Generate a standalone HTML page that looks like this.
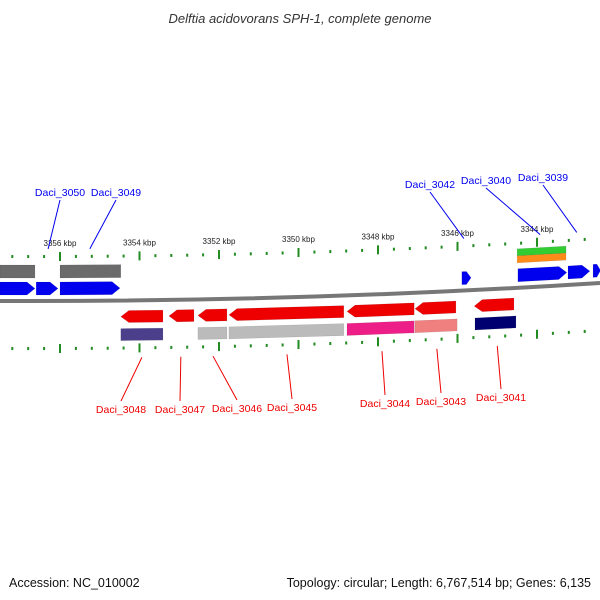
<!DOCTYPE html>
<html><head><meta charset="utf-8"><style>
body{margin:0;background:#fff}
svg{display:block;font-family:"Liberation Sans","DejaVu Sans",sans-serif}
</style></head><body>
<svg id="c" width="600" height="600" viewBox="0 0 600 600">
<text x="300" y="23" text-anchor="middle" font-size="13" font-style="italic" fill="#333">Delftia acidovorans SPH-1, complete genome</text>
<text x="9" y="587" font-size="12.5" fill="#111">Accession: NC_010002</text>
<text x="591" y="587" text-anchor="end" font-size="12.5" fill="#111">Topology: circular; Length: 6,767,514 bp; Genes: 6,135</text>
<g id="ticks"></g><g id="genes"></g><g id="labels"></g>
</svg>
<script>
const tickKbp=[3356,3354,3352,3350,3348,3346,3344];
const geneStart=[3357.51,3356.6,3356.0,3345.89,3344.48,3343.22,3342.59,3354.47,3353.26,3352.53,3351.75,3348.78,3347.07,3345.58,3357.51,3356.0,3354.47,3352.53,3351.75,3348.78,3347.07,3345.56,3344.5,3344.5];
const geneEnd=[3356.63,3356.05,3354.49,3345.66,3343.25,3342.67,3342.4,3353.41,3352.63,3351.8,3348.86,3347.09,3346.04,3344.58,3356.63,3354.47,3353.41,3351.8,3348.86,3347.09,3346.01,3344.53,3343.27,3343.27];
const geneTrack=["f","f","f","f","f","f","f","r","r","r","r","r","r","r","ug","ug","lb","lb","lb","lb","lb","lb","ug2","ug3"];
const geneColor=["#0000ee","#0000ee","#0000ee","#0000ee","#0000ee","#0000ee","#0000ee","#ee0000","#ee0000","#ee0000","#ee0000","#ee0000","#ee0000","#ee0000","#6b6b6b","#6b6b6b","#4b3f8c","#bbbbbb","#bbbbbb","#ee1e88","#f08080","#000070","#33cc33","#ff8c1a"];
const labelText=["Daci_3050","Daci_3049","Daci_3042","Daci_3040","Daci_3039","Daci_3048","Daci_3047","Daci_3046","Daci_3045","Daci_3044","Daci_3043","Daci_3041"];
const labelKbp=[3356.3,3355.25,3345.84,3343.92,3343.0,3353.94,3352.96,3352.15,3350.29,3347.9,3346.52,3345.0];
const labelSide=["u","u","u","u","u","d","d","d","d","d","d","d"];
const labelX=[60,116,430,486,543,121,180,237,292,385,441,501];
const labelY=[196,196,188,184,181,413,413,412,411,407,405,401];
const NS="http://www.w3.org/2000/svg";
const X=k=>60+(3356-k)*39.75;
const Y=x=>-5.56e-5*x*x+0.00333*x+301;
function mk(tag,attrs,parent){const e=document.createElementNS(NS,tag);for(const a in attrs)e.setAttribute(a,attrs[a]);parent.appendChild(e);return e;}
const tg=document.getElementById('ticks'),gg=document.getElementById('genes'),lg=document.getElementById('labels');
const bb=mk('path',{d:`M0 ${Y(0)} Q300 ${2*Y(300)-(Y(0)+Y(600))/2} 600 ${Y(600)}`,stroke:'#777',"stroke-width":4,fill:'none'},gg);


for(let k=3358;k>=3342;k=Math.round((k-0.4)*10)/10){
  const x=X(k);if(x<0||x>600)continue;
  const major=Math.abs(k/2-Math.round(k/2))<1e-6;
  [-45,47].forEach(off=>{
    const y=Y(x)+off;
    const t=mk('rect',{x:x-1,y:major?y-4:y-1,width:2,height:major?9:3,fill:'#228b22'},tg);
    
    
  });
}
tickKbp.forEach(k=>{
  const x=X(k);
  const t=mk('text',{x:x,y:Y(x)-55,"text-anchor":"middle","font-size":8,fill:'#222'},tg);
  t.textContent=k+' kbp';
  
  
});
const trackOff={f:[-19,-6],r:[10,22],ug:[-36,-23],lb:[28,40],ug2:[-39,-32],ug3:[-32,-25]};
geneStart.forEach((s,i)=>{
  const x1=Math.max(X(s),-10),x2=Math.min(X(geneEnd[i]),610);
  const tr=geneTrack[i],[a,b]=trackOff[tr];
  const y1=Y(x1),y2=Y(x2);let pts;
  if(tr==='f'){const h=Math.min(8,(x2-x1)/2),xm=x2-h;const ym=Y(xm);
    pts=`${x1},${y1+a} ${xm},${ym+a} ${x2},${Y(x2)+(a+b)/2} ${xm},${ym+b} ${x1},${y1+b}`;}
  else if(tr==='r'){const h=Math.min(8,(x2-x1)/2),xm=x1+h;const ym=Y(xm);
    pts=`${x1},${y1+(a+b)/2} ${xm},${ym+a} ${x2},${y2+a} ${x2},${y2+b} ${xm},${ym+b}`;}
  else pts=`${x1},${y1+a} ${x2},${y2+a} ${x2},${y2+b} ${x1},${y1+b}`;
  const p=mk('polygon',{points:pts,fill:geneColor[i],stroke:'rgba(0,0,0,0.15)',"stroke-width":0.5},gg);
  
  
});
labelText.forEach((t,i)=>{
  const x=X(labelKbp[i]);const up=labelSide[i]==='u';
  const col=up?'#0000ee':'#ee0000';
  const ty=up?Y(x)-52:Y(x)+57;
  const ln=mk('line',{x1:x,y1:ty,x2:labelX[i],y2:up?labelY[i]+4:labelY[i]-12,stroke:col,"stroke-width":1},lg);
  
  
  const tx=mk('text',{x:labelX[i],y:labelY[i],"text-anchor":"middle","font-size":10.5,fill:col},lg);
  tx.textContent=t;
  
  
});
</script>
</body></html>
